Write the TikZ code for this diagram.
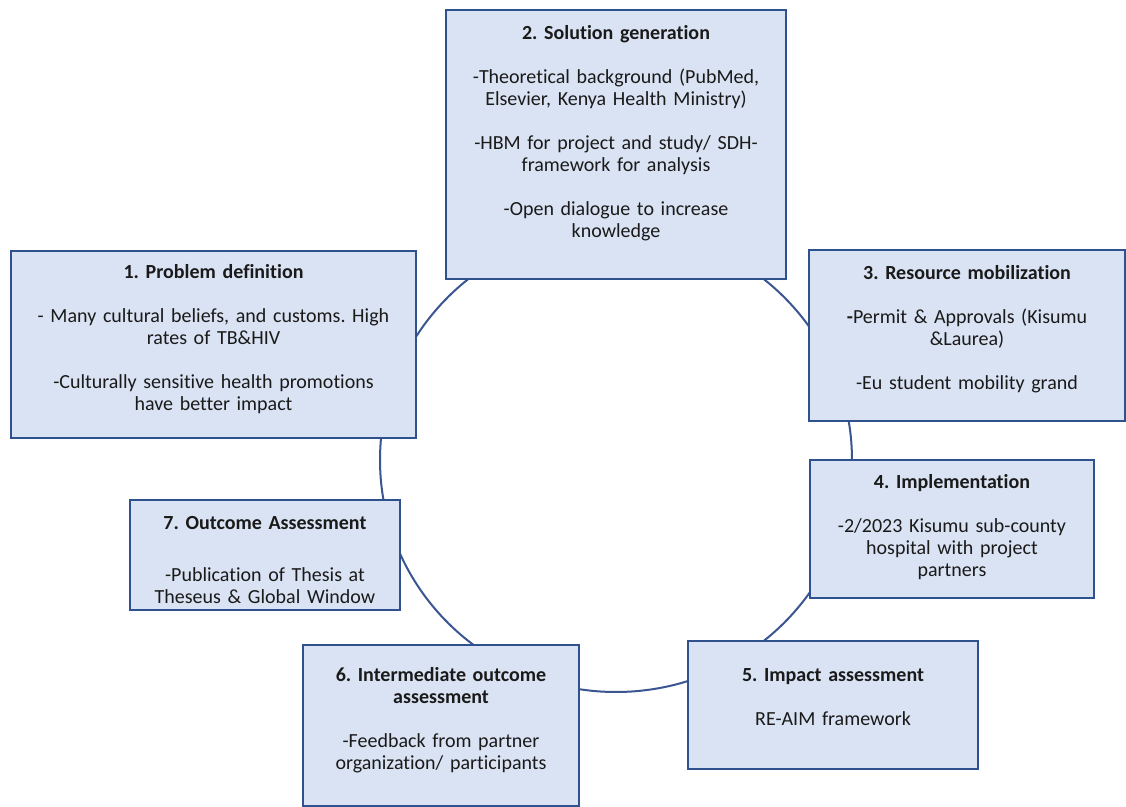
\documentclass[tikz,border=0pt]{standalone}
\usepackage{fontspec}
\setmainfont{Carlito}[Ligatures=NoCommon]
\frenchspacing
\definecolor{Fill}{HTML}{DAE3F3}
\definecolor{Edge}{HTML}{2F528F}
\definecolor{Ring}{HTML}{3A5590}
\definecolor{Ink}{HTML}{1A1A1A}
\tikzset{
  stage/.style={draw=Edge,fill=Fill,line width=1pt,anchor=north west,inner sep=0pt,align=center,font=\fontsize{10}{11}\selectfont,text=Ink},
  ring/.style={draw=Ring,line width=1pt}
}
\newcommand{\head}[1]{\textbf{#1}}

\begin{document}
\begin{tikzpicture}[x=0.5pt,y=-0.5pt]
  \useasboundingbox (0,0) rectangle (1126,807);
  \coordinate (hub) at (616,460);
  \draw[ring] (hub) ellipse [x radius=236,y radius=232];
  \node[stage,text width=202.5pt,text height=14pt,text depth=79.5pt] (problem) at (10,250)
    {\head{1. Problem definition}\\[11pt]- Many cultural beliefs, and customs. High\\rates of TB\&HIV\\[11pt]-Culturally sensitive health promotions\\have better impact};
  \node[stage,text width=170pt,text height=15pt,text depth=119.5pt] (solution) at (445,9)
    {\head{2. Solution generation}\\[11pt]-Theoretical background (PubMed,\\Elsevier, Kenya Health Ministry)\\[11pt]-HBM for project and study/ SDH-\\framework for analysis\\[11pt]-Open dialogue to increase\\knowledge};
  \node[stage,text width=158pt,text height=15pt,text depth=70.5pt] (resource) at (808,249)
    {\head{3. Resource mobilization}\\[11pt]\textbf{-}Permit \& Approvals (Kisumu\\\&Laurea)\\[11pt]-Eu student mobility grand};
  \node[stage,text width=142pt,text height=14.5pt,text depth=54.5pt] (implement) at (809,459)
    {\head{4. Implementation}\\[11pt]-2/2023 Kisumu sub-county\\hospital with project\\partners};
  \node[stage,text width=145pt,text height=20.5pt,text depth=43.5pt] (impact) at (687,640)
    {\head{5. Impact assessment}\\[11pt]RE-AIM framework};
  \node[stage,text width=138pt,text height=18.5pt,text depth=62pt] (interim) at (302,644)
    {\head{6. Intermediate outcome}\\\head{assessment}\\[11pt]-Feedback from partner\\organization/ participants};
  \node[stage,text width=135pt,text height=15pt,text depth=40pt] (outcome) at (129,499)
    {\head{7. Outcome Assessment}\\[15pt]-Publication of Thesis at\\Theseus \& Global Window};
\end{tikzpicture}
\end{document}
